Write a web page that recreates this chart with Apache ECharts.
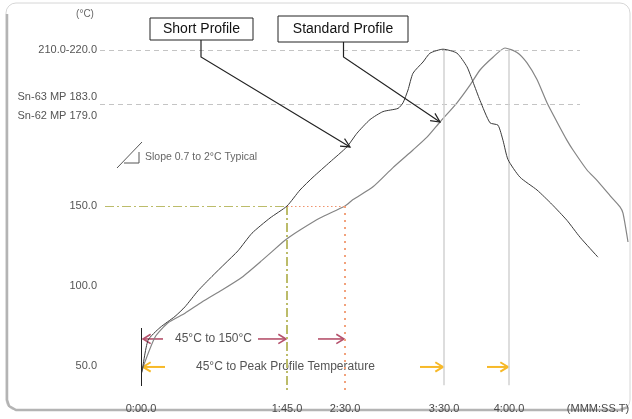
<!DOCTYPE html>
<html><head><meta charset="utf-8">
<script src="https://cdn.jsdelivr.net/npm/echarts@6/dist/echarts.min.js"></script>
<style>html,body{margin:0;padding:0;background:#fff}#c{width:632px;height:419px}</style>
</head><body><div id="c"></div>
<script>
// x values are positions along the (schematic, non-linear) time axis; y values in the chart's temperature scale
const xTickPos = [0, 146, 204, 303, 368, 457];
const xTickLabels = ['0:00.0', '1:45.0', '2:30.0', '3:30.0', '4:00.0', '(MMM:SS.T)'];
const yTickPos = [50, 100, 150, 206.25, 218.1, 247.5];
const yTickLabels = ['50.0', '100.0', '150.0', 'Sn-62 MP 179.0', 'Sn-63 MP 183.0', '210.0-220.0'];

const shortProfile = [
  [1,46],[7,66],[19,74],[34,81],[44,87],[57,97],[71,106],[84,114],[97,122],[111,133],
  [129,142.5],[146,150],[159,160],[172,168],[189,177.5],[206,187],[216,195.5],[229,204],
  [242,209],[257,211],[262,214.5],[267,222.5],[272,233],[282,240],[289,245.5],[302,248],
  [316,245.5],[326,237],[332,227.5],[339,216],[349,202],[357,200.5],[362,191],[367,179],
  [379,168],[396,160],[411,151],[426,141],[439,130.5],[457,118]
];
const standardProfile = [
  [1,47.5],[14,68],[27,77],[44,83],[61,90],[81,97.5],[101,105.5],[121,116],[141,127],
  [147,130],[159,135],[179,142.5],[204,150],[212,154],[232,162],[252,174],[272,185],
  [286,193],[299,202.5],[316,214.5],[329,225.5],[339,235],[352,243],[364,248.75],
  [376,246],[386,239.5],[396,229],[406,214.5],[416,202.5],[426,191],[432,185],
  [446,172.5],[456,166],[469,156.5],[479,149.5],[482,145.5],[487,127.5]
];

const peakLevel = 247.5, meltLevel = 213.75, level150 = 150;
const shortPeakX = 303, stdPeakX = 368, short150X = 146, std150X = 204;

const chart = echarts.init(document.getElementById('c'));
const FONT = '"Liberation Sans", Arial, sans-serif';

function ml(a, b, style) { return [{ coord: a, lineStyle: style }, { coord: b }]; }

chart.setOption({
  animation: false,
  grid: { left: 100, right: 1, top: 46, bottom: 21, containLabel: false, outerBoundsMode: 'none' },
  xAxis: {
    type: 'value', min: -41, max: 490,
    axisLine: { show: false }, axisTick: { show: false }, splitLine: { show: false },
    axisLabel: {
      customValues: xTickPos, margin: 5, color: '#4a4a4a', fontSize: 11, fontFamily: FONT,
      formatter: v => { const i = xTickPos.findIndex(p => Math.abs(p - v) < 0.01); return i >= 0 ? xTickLabels[i] : ''; }
    }
  },
  yAxis: {
    type: 'value', min: 30, max: 250,
    axisLine: { show: false }, axisTick: { show: false }, splitLine: { show: false },
    axisLabel: {
      customValues: yTickPos, margin: 3, color: '#555', fontSize: 11, fontFamily: FONT,
      formatter: v => { const i = yTickPos.findIndex(p => Math.abs(p - v) < 0.01); return i >= 0 ? yTickLabels[i] : ''; }
    }
  },
  series: [
    {
      type: 'line', data: [], silent: true,
      markLine: {
        silent: true, symbol: 'none', label: { show: false }, animation: false,
        data: [
          ml([-41, peakLevel], [439, peakLevel], { color: '#c4c4c4', type: [5, 4], width: 1 }),
          ml([-41, meltLevel], [439, meltLevel], { color: '#c4c4c4', type: [5, 4], width: 1 }),
          ml([shortPeakX, peakLevel], [shortPeakX, 38], { color: '#d2d2d2', type: 'solid', width: 1.5 }),
          ml([stdPeakX, peakLevel], [stdPeakX, 38], { color: '#d2d2d2', type: 'solid', width: 1.5 }),
          ml([-36, level150], [short150X, level150], { color: '#bcbc6a', type: [9, 3, 2, 3], width: 1.2 }),
          ml([short150X, level150], [short150X, 35], { color: '#bcbc6a', type: [9, 3, 2, 3], width: 2 }),
          ml([short150X, level150], [std150X, level150], { color: '#f0946e', type: [1.5, 2.5], width: 1.2 }),
          ml([std150X, level150], [std150X, 35], { color: '#f2a27c', type: [2, 5], width: 2 }),
          ml([0, 73.75], [0, 37.5], { color: '#222', type: 'solid', width: 1 })
        ]
      }
    },
    { name: 'Short Profile', type: 'line', data: shortProfile, showSymbol: false, smooth: 0.2,
      lineStyle: { color: '#3a3a3a', width: 1 }, z: 5 },
    { name: 'Standard Profile', type: 'line', data: standardProfile, showSymbol: false, smooth: 0.2,
      lineStyle: { color: '#858585', width: 1.2 }, z: 4 }
  ]
});

// ---- annotations anchored in data coordinates ----
const P = (x, y) => chart.convertToPixel({ gridIndex: 0 }, [x, y]);
const g = [];
function openArrow(from, to, color, w) {
  const a = P(from[0], from[1]), b = P(to[0], to[1]);
  const ang = Math.atan2(b[1] - a[1], b[0] - a[0]);
  const L = 9, s = 0.55;
  const h1 = [b[0] - L * Math.cos(ang - s), b[1] - L * Math.sin(ang - s)];
  const h2 = [b[0] - L * Math.cos(ang + s), b[1] - L * Math.sin(ang + s)];
  g.push({ type: 'polyline', shape: { points: [a, b] }, style: { stroke: color, lineWidth: w, fill: null }, silent: true });
  g.push({ type: 'polyline', shape: { points: [h1, b, h2] }, style: { stroke: color, lineWidth: w, fill: null }, silent: true });
}
const RED = '#b5516c', YEL = '#f7b928';
openArrow([22, 66.9], [2, 66.9], RED, 1.6);
openArrow([117, 66.9], [145, 66.9], RED, 1.6);
openArrow([177, 66.9], [203, 66.9], RED, 1.6);
openArrow([24, 49.4], [2, 49.4], YEL, 2);
openArrow([279, 49.4], [302, 49.4], YEL, 2);
openArrow([346, 49.4], [367, 49.4], YEL, 2);
const t1 = P(34, 66.9), t2 = P(55, 49.4);
g.push({ type: 'text', x: t1[0], y: t1[1], style: { text: '45°C to 150°C', fill: '#555', font: '12px ' + FONT, verticalAlign: 'middle' }, silent: true });
g.push({ type: 'text', x: t2[0], y: t2[1], style: { text: '45°C to Peak Profile Temperature', fill: '#555', font: '12px ' + FONT, verticalAlign: 'middle' }, silent: true });

// callouts
function callout(text, bx, by, bw, bh, target) {
  g.push({ type: 'rect', shape: { x: bx, y: by, width: bw, height: bh }, style: { fill: '#fff', stroke: '#222', lineWidth: 1 }, z: 10, silent: true });
  g.push({ type: 'text', x: bx + bw / 2, y: by + bh / 2, style: { text: text, fill: '#111', font: '14px ' + FONT, align: 'center', verticalAlign: 'middle' }, z: 11, silent: true });
  const mx = bx + bw / 2 + (text === 'Short Profile' ? -0.5 : 0.5);
  const b = P(target[0], target[1]);
  const elbow = [mx, 57];
  g.push({ type: 'polyline', shape: { points: [[mx, by + bh], elbow, b] }, style: { stroke: '#222', lineWidth: 1.2, fill: null }, z: 9, silent: true });
  const ang = Math.atan2(b[1] - elbow[1], b[0] - elbow[0]);
  const L = 10, s = 0.45;
  g.push({ type: 'polyline', shape: { points: [[b[0] - L * Math.cos(ang - s), b[1] - L * Math.sin(ang - s)], b, [b[0] - L * Math.cos(ang + s), b[1] - L * Math.sin(ang + s)]] }, style: { stroke: '#222', lineWidth: 1.2, fill: null }, z: 9, silent: true });
}
callout('Short Profile', 150, 18, 103, 22, [209, 186.9]);
callout('Standard Profile', 278, 16, 130, 26, [299, 202.5]);

// slope legend
g.push({ type: 'polyline', shape: { points: [[117, 168], [142, 142]] }, style: { stroke: '#555', lineWidth: 1, fill: null }, silent: true });
g.push({ type: 'polyline', shape: { points: [[124, 163], [139, 163], [139, 152]] }, style: { stroke: '#555', lineWidth: 1, fill: null }, silent: true });
g.push({ type: 'text', x: 145, y: 157, style: { text: 'Slope 0.7 to 2°C Typical', fill: '#666', font: '10.5px ' + FONT, verticalAlign: 'middle' }, silent: true });

// unit label & frame
g.push({ type: 'text', x: 85, y: 14, style: { text: '(°C)', fill: '#666', font: '10px ' + FONT, align: 'center', verticalAlign: 'middle' }, silent: true });
g.push({ type: 'rect', shape: { x: 6, y: 3, width: 624, height: 407, r: 10 }, style: { fill: null, stroke: '#d6d6d6', lineWidth: 1 }, z: -1, silent: true });
g.push({ type: 'polyline', shape: { points: [[7, 14], [7, 400], [9, 406], [16, 410], [620, 410], [628, 407]] }, style: { stroke: '#b4b4b4', lineWidth: 2.5, fill: null }, z: -1, silent: true });

chart.setOption({ graphic: g });
</script>
</body></html>
